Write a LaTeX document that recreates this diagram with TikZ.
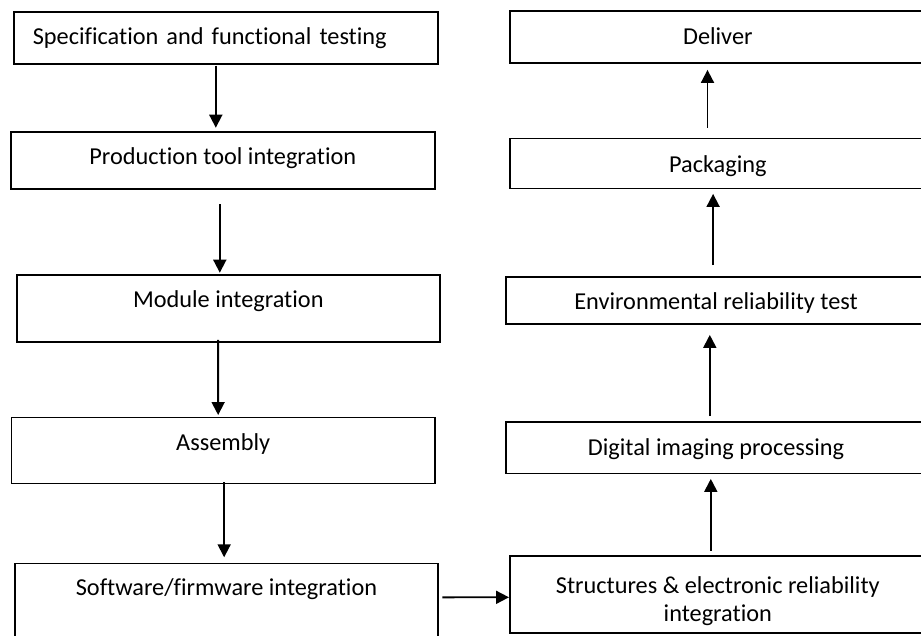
\documentclass[tikz,border=0pt]{standalone}
\usepackage{fontspec}
\setmainfont{Carlito}[Ligatures=NoCommon]
\usetikzlibrary{arrows.meta}
\begin{document}
\begin{tikzpicture}[x=1pt, y=-1pt,
  box/.style={draw, line width=1.6pt, inner sep=0pt, anchor=north west},
  arr/.style={-{Triangle[length=13pt, width=13pt]}, line width=1.8pt},
  every node/.style={font=\fontsize{24.3}{28.4}\selectfont}]
  \useasboundingbox (0,0) rectangle (921,635);

  % 1. left column (top to bottom)
  \node[box, text width=386pt, inner xsep=19pt, align=left, text height=33pt, text depth=19pt] (spec) at (13,11) {Specification and functional testing};
  \node[box, minimum width=424pt, text height=33pt, text depth=24pt] (prod) at (10,131) {Production tool integration};
  \node[box, minimum width=423pt, text height=32.7pt, text depth=34.3pt] (module) at (16,274) {Module integration};
  \node[box, minimum width=423.3pt, text height=32.6pt, text depth=33.4pt] (assembly) at (10.7,416.7) {Assembly};
  \node[box, minimum width=423.3pt, text height=32.3pt, text depth=50pt] (software) at (14,562.7) {Software/firmware integration};

  % 2. right column (bottom to top)
  \node[box, minimum width=416pt, minimum height=77.3pt, align=center] (structures) at (509,555) {\rule{0pt}{30pt}Structures \& electronic reliability\\integration};
  \node[box, minimum width=420pt, text height=33.3pt, text depth=18.4pt] (digital) at (505.3,421) {Digital imaging processing};
  \node[box, minimum width=420pt, text height=32.3pt, text depth=15pt] (envtest) at (505.3,276) {Environmental reliability test};
  \node[box, minimum width=416pt, text height=34pt, text depth=16pt] (packaging) at (509,137.7) {Packaging};
  \node[box, minimum width=416pt, text height=33pt, text depth=18.7pt] (deliver) at (509,10.3) {Deliver};

  % 3. arrows
  \draw[arr] ([xshift=-10pt,yshift=-1pt]spec.south) -- ([xshift=-7pt,yshift=3.3pt]prod.north);
  \draw[arr] ([xshift=-3pt,yshift=-14.7pt]prod.south) -- ([xshift=-8.5pt,yshift=1.3pt]module.north);
  \draw[arr] ([xshift=-10.2pt,yshift=2.7pt]module.south) -- ([xshift=-5pt,yshift=1.7pt]assembly.north);
  \draw[arr] ([xshift=1pt,yshift=2.3pt]assembly.south) -- ([xshift=-2.3pt,yshift=5.4pt]software.north);
  \draw[arr] ([xshift=3.4pt,yshift=7.3pt]software.east) -- ([yshift=-2.85pt]structures.west);
  \draw[arr] ([xshift=-7pt,yshift=4.3pt]structures.north) -- ([xshift=-5.3pt,yshift=-4.6pt]digital.south);
  \draw[arr] ([xshift=-6.3pt,yshift=5pt]digital.north) -- ([xshift=-6.3pt,yshift=-10pt]envtest.south);
  \draw[arr] ([xshift=-3pt,yshift=11pt]envtest.north) -- ([xshift=-4.7pt,yshift=-4.6pt]packaging.south);
  \draw[arr] ([xshift=-10.3pt,yshift=10pt]packaging.north) -- ([xshift=-10.3pt,yshift=-6.3pt]deliver.south);
\end{tikzpicture}
\end{document}
